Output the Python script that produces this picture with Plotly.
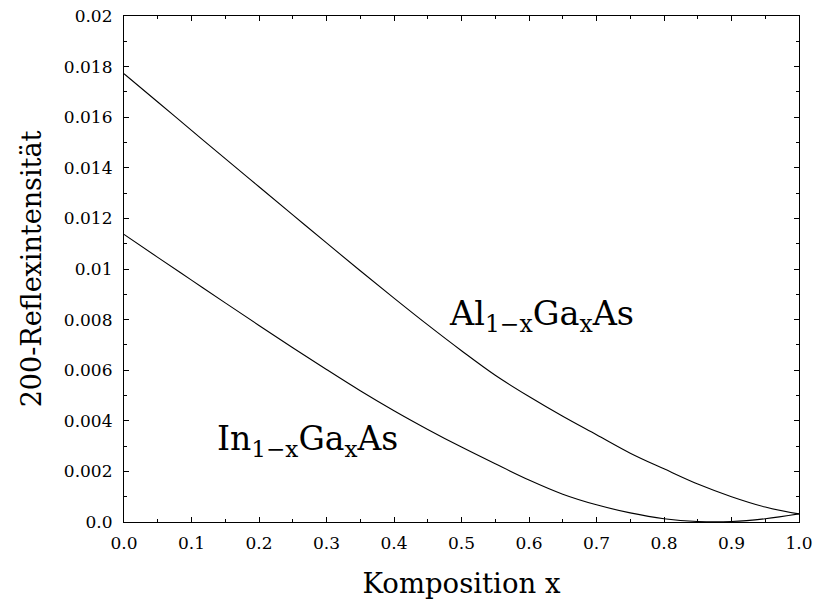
import plotly.graph_objects as go

x_comp = [0.0, 0.05, 0.1, 0.15, 0.2, 0.25, 0.3, 0.35, 0.4, 0.45, 0.5,
          0.55, 0.6, 0.65, 0.7, 0.75, 0.8, 0.85, 0.9, 0.95, 1.0]
al_gaas = [0.01772, 0.01660, 0.01548, 0.01436, 0.01325, 0.01214, 0.01103,
           0.00993, 0.00885, 0.00779, 0.00677, 0.00580, 0.00496, 0.00418,
           0.00345, 0.00272, 0.00210, 0.00150, 0.00100, 0.00059, 0.00032]
in_gaas = [0.01137, 0.01046, 0.00956, 0.00866, 0.00777, 0.00689, 0.00603,
           0.00519, 0.00440, 0.00366, 0.00296, 0.00230, 0.00166, 0.00110,
           0.00068, 0.00036, 0.00013, 0.00002, 0.00002, 0.00013, 0.00032]

x_tickvals = [0.0, 0.1, 0.2, 0.3, 0.4, 0.5, 0.6, 0.7, 0.8, 0.9, 1.0]
x_ticktext = ["0.0", "0.1", "0.2", "0.3", "0.4", "0.5", "0.6", "0.7", "0.8", "0.9", "1.0"]
y_tickvals = [0.0, 0.002, 0.004, 0.006, 0.008, 0.01, 0.012, 0.014, 0.016, 0.018, 0.02]
y_ticktext = ["0.0", "0.002", "0.004", "0.006", "0.008", "0.01", "0.012",
              "0.014", "0.016", "0.018", "0.02"]

serif = "DejaVu Serif"

fig = go.Figure()
fig.add_trace(go.Scatter(x=x_comp, y=al_gaas, mode="lines", line=dict(color="black", width=1.1, shape="spline"),
                         showlegend=False))
fig.add_trace(go.Scatter(x=x_comp, y=in_gaas, mode="lines", line=dict(color="black", width=1.1, shape="spline"),
                         showlegend=False))

axis_common = dict(
    showgrid=False, zeroline=False, showline=True, linecolor="black", linewidth=1.2,
    mirror="ticks", ticks="inside", ticklen=5, tickwidth=1.2, tickcolor="black",
    tickfont=dict(family=serif, size=17, color="black"),
)

fig.update_xaxes(range=[0, 1], tickvals=x_tickvals, ticktext=x_ticktext,
                 minor=dict(ticks="inside", ticklen=3, tickwidth=1, tickcolor="black", dtick=0.05, showgrid=False),
                 ticklabelstandoff=5,
                 title=dict(text="Komposition x", font=dict(family=serif, size=27.5, color="black"), standoff=22),
                 **axis_common)
fig.update_yaxes(range=[0, 0.02], tickvals=y_tickvals, ticktext=y_ticktext,
                 minor=dict(ticks="inside", ticklen=3, tickwidth=1, tickcolor="black", dtick=0.001, showgrid=False),
                 ticklabelstandoff=7,
                 title=dict(text="200-Reflexintensität", font=dict(family=serif, size=27, color="black"), standoff=14),
                 **axis_common)

fig.add_annotation(x=0.4785, y=0.00815, xref="x", yref="y", xanchor="left", yanchor="middle",
                   text="Al<sub>1−x</sub>Ga<sub>x</sub>As", showarrow=False,
                   font=dict(family=serif, size=33.5, color="black"))
fig.add_annotation(x=0.1355, y=0.00322, xref="x", yref="y", xanchor="left", yanchor="middle",
                   text="In<sub>1−x</sub>Ga<sub>x</sub>As", showarrow=False,
                   font=dict(family=serif, size=33, color="black"))

fig.update_layout(
    width=814, height=603,
    margin=dict(l=123.5, r=15, t=16, b=81, autoexpand=False),
    paper_bgcolor="white", plot_bgcolor="white",
    font=dict(family=serif, color="black"),
)

fig.write_html("out.html")
